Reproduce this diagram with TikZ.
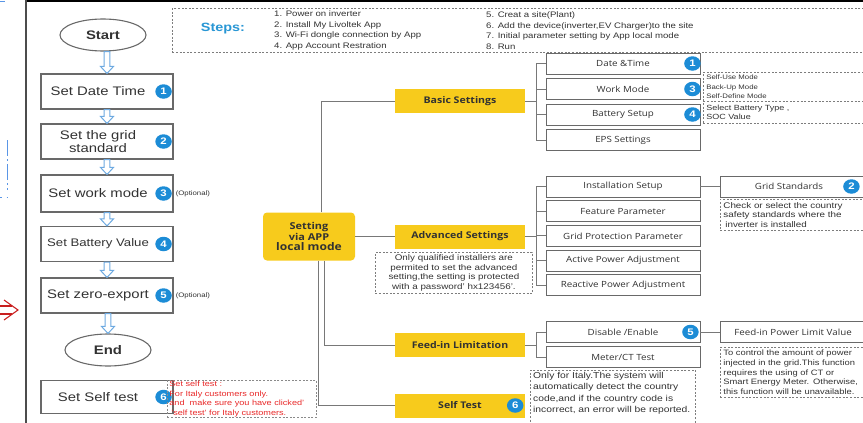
\documentclass[tikz,border=0pt]{standalone}
\usepackage{fontspec}
\setmainfont{Liberation Sans}[FakeStretch=1.2]
\newfontfamily\appfont{Open Sans}[FakeStretch=1.15]
\usepackage{tikz}
\usetikzlibrary{positioning,calc,shapes.geometric}

\definecolor{appyellow}{RGB}{247,203,28}
\definecolor{badgeblue}{RGB}{28,140,214}
\definecolor{arrowblue}{RGB}{110,170,225}
\definecolor{stepsblue}{RGB}{40,150,212}
\definecolor{markblue}{RGB}{90,150,230}
\definecolor{boxgray}{RGB}{105,105,105}
\definecolor{notegray}{RGB}{125,125,125}
\definecolor{textgray}{RGB}{50,50,50}
\definecolor{notered}{RGB}{232,40,40}
\definecolor{arrowred}{RGB}{200,30,30}

\newcommand\badgepad{\hspace*{18pt}}
\newcommand\flowarrow[2]{%
    \draw[flowarr] ($(#1.south -| #2.north)+(-2.8,0)$) -- ($(#2.north)+(-2.8,-7)$)
        -- ++(-3.7,0) -- (#2.north) -- ($(#2.north)+(6.5,-7)$) -- ++(-3.7,0)
        -- ($(#1.south -| #2.north)+(2.8,0)$) -- cycle;}

\begin{document}
\begin{tikzpicture}[x=1pt, y=-1pt, node distance=25.5pt, on grid,
    flowbox/.style={draw=boxgray, line width=1.1pt, minimum width=132pt, minimum height=35pt,
        inner sep=0pt, align=center, text=textgray, font=\fontsize{12.4}{10}\selectfont},
    endpoint/.style={ellipse, draw=boxgray, line width=1.1pt, minimum width=86pt, minimum height=32pt,
        inner sep=0pt, text=textgray, font=\bfseries\fontsize{12.4}{14}\selectfont},
    flowarr/.style={draw=arrowblue, fill=white, line width=1pt, line join=miter},
    badge/.style={ellipse, fill=badgeblue, text=white, inner sep=0pt, minimum width=16.5pt,
        minimum height=14.5pt, font=\bfseries\fontsize{9.5}{9.5}\selectfont},
    optional/.style={anchor=west, inner sep=0pt, text=textgray, font=\fontsize{6.5}{7}\selectfont},
    hub/.style={fill=appyellow, rounded corners=4pt, minimum width=92pt, minimum height=48pt,
        align=center, inner sep=0pt, text=textgray, font=\appfont\bfseries\fontsize{9.5}{10.5}\selectfont},
    menu/.style={fill=appyellow, minimum width=130pt, minimum height=24pt, inner sep=0pt,
        text=textgray, font=\appfont\bfseries\fontsize{9.2}{11}\selectfont},
    item/.style={draw=boxgray, line width=0.9pt, minimum width=154pt, minimum height=21pt,
        inner sep=0pt, text=textgray, font=\appfont\fontsize{8.5}{10}\selectfont},
    branch/.style={draw=boxgray!90, line width=1pt},
    note/.style={anchor=north west, draw=notegray, line width=0.8pt, dash pattern=on 2pt off 1.6pt,
        inner xsep=3pt, inner ysep=1pt, align=left, text=textgray, font=\fontsize{8.2}{9.6}\selectfont},
    notetext/.style={anchor=north west, inner sep=0pt, align=left, text=textgray},
    stepsframe/.style={anchor=north west, draw=notegray, line width=0.8pt, dash pattern=on 2pt off 1.6pt},
    stepstext/.style={anchor=west, inner sep=0pt, align=left, text=textgray,
        font=\fontsize{8}{10.5}\selectfont}]

    \useasboundingbox (0,0) rectangle (863,423);

    % edges of the screenshot
    \draw[line width=2pt, black] (26,1) -- (863,1);
    \draw[line width=1.6pt, black!70] (26,0) -- (26,423);
    \draw[markblue, line width=1pt] (0,1) -- (5,1);
    \draw[markblue, line width=1pt, dash pattern=on 16pt off 3pt on 2pt off 3pt] (7,140) -- (7,190);
    \draw[markblue, line width=1pt, dash pattern=on 1.5pt off 5pt] (0,197) -- (9,197);
    \draw[arrowred, line width=1.1pt] (0,306) -- (12,306) (0,314) -- (12,314);
    \draw[arrowred, line width=1.1pt] (4,300) -- (18,310) -- (4,320);

    % steps
    \node[stepsframe, minimum width=700pt, minimum height=44pt] (stepsbox) at (172,8) {};
    \node[text=stepsblue, font=\bfseries\fontsize{12}{12}\selectfont] (stepstitle) at (223,29) {Steps:};
    \node[stepstext] (stepsa) at (274,30.5) {1. Power on inverter\\2. Install My Livoltek App\\3. Wi-Fi dongle connection by App\\4. App Account Restration};
    \node[stepstext] (stepsb) at (486,30.5) {5. Creat a site(Plant)\\6. Add the device(inverter,EV Charger)to the site\\7. Initial parameter setting by App local mode\\8. Run};

    % flow on the left
    \node[endpoint] (start) at (103,35) {Start};
    \node[flowbox] (settime) at (107,91.5) {Set Date Time\badgepad};
    \node[flowbox] (setgrid) [below=50pt of settime] {Set the grid\badgepad\\standard\badgepad};
    \node[flowbox, minimum height=37pt] (setwork) [below=52pt of setgrid] {Set work mode\badgepad};
    \node[flowbox, font=\fontsize{11}{10}\selectfont] (setbatt) [below=50.5pt of setwork] {Set Battery Value\badgepad};
    \node[flowbox] (setzero) [below=51.5pt of setbatt] {Set zero-export\badgepad};
    \node[endpoint] (finish) at (108,350) {End};
    \node[flowbox, minimum height=33pt] (setself) at (107,397) {Set Self test\badgepad};

    \flowarrow{start}{settime}
    \flowarrow{settime}{setgrid}
    \flowarrow{setgrid}{setwork}
    \flowarrow{setwork}{setbatt}
    \flowarrow{setbatt}{setzero}
    \flowarrow{setzero}{finish}

    \node[badge, xshift=-10pt] (n1) at (settime.east) {1};
    \node[badge, xshift=-10pt] (n2) at (setgrid.east) {2};
    \node[badge, xshift=-10pt] (n3) at (setwork.east) {3};
    \node[badge, xshift=-10pt] (n4) at (setbatt.east) {4};
    \node[badge, xshift=-10pt] (n5) at (setzero.east) {5};
    \node[badge, xshift=-10pt] (n6) at (setself.east) {6};
    \node[optional] (optwork) at ([xshift=2pt]setwork.east) {(Optional)};
    \node[optional] (optzero) at ([xshift=2pt]setzero.east) {(Optional)};

    \node[note, draw=notegray!90, text=notered, text width=145pt, inner xsep=2pt, minimum height=37pt,
        font=\fontsize{7.6}{9.4}\selectfont] (selfhint) at (167,380)
        {Set self test :\\For Italy customers only.\\and\ \ make sure you have clicked'\\\hspace*{2pt}'self test' for Italy customers.};

    % setting tree
    \node[hub] (setapp) at (309,236.5) {Setting\\via APP\\{\fontsize{10.5}{11}\selectfont local mode}};
    \node[menu] (basic) at (460,101) {Basic Settings};
    \node[menu] (advanced) at (460,236.5) {Advanced Settings};
    \node[menu] (feedin) at (460,345) {Feed-in Limitation};
    \node[menu] (selftst) at (460,405.5) {Self Test};
    \node[badge, xshift=-10pt] (m6) at (selftst.east) {6};

    \draw[branch] ([xshift=12pt]setapp.north) |- (basic.west);
    \draw[branch] (setapp.east) -- (advanced.west);
    \draw[branch] ([xshift=15pt]setapp.south) |- (feedin.west);
    \draw[branch] ([xshift=9pt]setapp.south) |- (selftst.west);

    % basic settings
    \node[item] (datetm) at (623,63.5) {Date \&Time};
    \node[item] (workmd) [below=of datetm] {Work Mode};
    \node[item] (battset) [below=of workmd] {Battery Setup};
    \node[item] (epsset) [below=of battset] {EPS Settings};
    \node[badge, xshift=-8pt] (m1) at (datetm.east) {1};
    \node[badge, xshift=-8pt] (m3) at (workmd.east) {3};
    \node[badge, xshift=-8pt] (m4) at (battset.east) {4};

    \coordinate (basicfork) at ([xshift=11pt]basic.east);
    \draw[branch] (basic.east) -- (basicfork);
    \draw[branch] (basicfork |- datetm.west) -- (basicfork |- epsset.west);
    \foreach \leaf in {datetm, workmd, battset, epsset}
        \draw[branch] (basicfork |- \leaf.west) -- (\leaf.west);

    \node[note, text width=164pt, minimum height=29pt, font=\fontsize{6.5}{9.3}\selectfont] (worknote) at (703,72)
        {Self-Use Mode\\Back-Up Mode\\Self-Define Mode};
    \node[note, text width=164pt, minimum height=22pt, font=\fontsize{7.5}{9.3}\selectfont] (battnote) at (703,101)
        {Select Battery Type ,\\SOC Value};

    % advanced settings
    \node[item] (instset) at (623,186.5) {Installation Setup};
    \node[item] (featpar) [below=24.7pt of instset] {Feature Parameter};
    \node[item] (gridprot) [below=24.7pt of featpar] {Grid Protection Parameter};
    \node[item] (actpow) [below=24.7pt of gridprot] {Active Power Adjustment};
    \node[item] (reactpow) [below=24.7pt of actpow] {Reactive Power Adjustment};

    \coordinate (advfork) at ([xshift=11pt]advanced.east);
    \draw[branch] (advanced.east) -- (advfork);
    \draw[branch] (advfork |- instset.west) -- (advfork |- reactpow.west);
    \foreach \leaf in {instset, featpar, gridprot, actpow, reactpow}
        \draw[branch] (advfork |- \leaf.west) -- (\leaf.west);

    \node[item, minimum width=146pt] (gridstds) at (793,186.5) {Grid Standards\hspace*{8pt}};
    \node[badge, xshift=-15pt] (m2) at (gridstds.east) {2};
    \draw[branch] (instset.east) -- (gridstds.west);

    \node[note, text width=150pt, minimum height=31pt] (gridnote) at (720,199)
        {Check or select the country\\safety standards where the\\\hspace*{2pt}inverter is installed};
    \node[note, text width=151pt, minimum height=41pt, align=center] (advnote) at (375,252)
        {Only qualified installers are\\permited to set the advanced\\setting,the setting is protected\\with a password' hx123456'.};

    % feed-in limitation
    \node[item] (onoff) at (623,332) {Disable /Enable};
    \node[item] (metertest) [below=25pt of onoff] {Meter/CT Test};
    \node[badge, xshift=-10pt] (m5) at (onoff.east) {5};

    \coordinate (feedfork) at ([xshift=11pt]feedin.east);
    \draw[branch] (feedin.east) -- (feedfork);
    \draw[branch] (feedfork |- onoff.west) -- (feedfork |- metertest.west);
    \foreach \leaf in {onoff, metertest}
        \draw[branch] (feedfork |- \leaf.west) -- (\leaf.west);

    \node[item, minimum width=146pt] (powlimit) at (793,332) {Feed-in Power Limit Value};
    \draw[branch] (onoff.east) -- (powlimit.west);

    \node[note, text width=150pt, minimum height=50pt, font=\fontsize{7.8}{9.7}\selectfont] (limitnote) at (720,347)
        {To control the amount of power\\injected in the grid.This function\\requires the using of CT or\\Smart Energy Meter. Otherwise,\\this function will be unavailable.};

    % self test
    \node[note, minimum width=165pt, minimum height=60pt] (italynote) at (530,370) {};
    \node[notetext, font=\fontsize{8.6}{11.3}\selectfont] (italytext) at ([xshift=3pt,yshift=-2pt]italynote.north west)
        {Only for Italy.The system will\\automatically detect the country\\code,and if the country code is\\incorrect, an error will be reported.};

\end{tikzpicture}
\end{document}
